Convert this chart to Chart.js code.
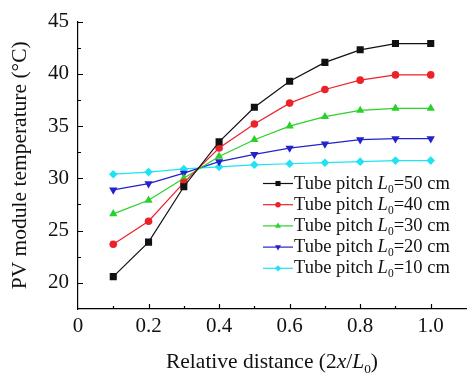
<!DOCTYPE html>
<html lang="en">
<head>
<meta charset="UTF-8">
<title>PV module temperature vs relative distance</title>
<script src="https://cdn.jsdelivr.net/npm/chart.js"></script>
<style>
    html, body { margin: 0; padding: 0; background: #fff; }
    #wrap { width: 471px; height: 378px; position: relative; }
</style>
</head>
<body>
<div id="wrap"><canvas id="chart"></canvas></div>
<script>
// relative distance 2x/L0
const distance = [0.1, 0.2, 0.3, 0.4, 0.5, 0.6, 0.7, 0.8, 0.9, 1.0];
// module temperature (°C) per tube pitch
const pitch50 = [20.6, 23.9, 29.2, 33.5, 36.8, 39.3, 41.1, 42.3, 42.9, 42.9];
const pitch40 = [23.7, 25.9, 29.6, 32.9, 35.2, 37.2, 38.5, 39.4, 39.9, 39.9];
const pitch30 = [26.6, 27.9, 30.0, 32.1, 33.7, 35.0, 35.9, 36.5, 36.7, 36.7];
const pitch20 = [28.9, 29.5, 30.5, 31.6, 32.3, 32.9, 33.3, 33.7, 33.8, 33.8];
const pitch10 = [30.4, 30.6, 30.9, 31.1, 31.3, 31.4, 31.5, 31.6, 31.7, 31.7];
const pitchLabels = ['50', '40', '30', '20', '10'];

const serif = "'Liberation Serif', 'Times New Roman', serif";

function series(vals, color, style, radius, rot) {
    return {
        data: vals.map((v, i) => ({ x: distance[i], y: v })),
        borderColor: color,
        backgroundColor: color,
        borderWidth: 1.2,
        pointStyle: style,
        pointRadius: radius,
        pointRotation: rot || 0,
        pointBorderWidth: 0,
        pointHoverRadius: radius,
        tension: 0
    };
}

const datasets = [
    series(pitch50, '#111111', 'rect', 5),
    series(pitch40, '#ec2228', 'circle', 3.8),
    series(pitch30, '#2bd12b', 'triangle', 4.8),
    series(pitch20, '#2323cc', 'triangle', 4.8, 180),
    series(pitch10, '#1fe3f2', 'rectRot', 4.3)
];

// inward tick marks (major + minor) on both axes
const innerTicks = {
    id: 'innerTicks',
    afterDraw(chart) {
        const { ctx, scales: { x, y } } = chart;
        ctx.save();
        ctx.strokeStyle = '#000';
        ctx.lineWidth = 1.2;
        ctx.beginPath();
        x.ticks.forEach(t => {
            const n = Math.round(t.value * 10);
            if (n <= 0 || n > 10) return;
            const px = Math.round(x.getPixelForValue(t.value)) + 0.5;
            const len = n % 2 === 0 ? 5 : 3;
            ctx.moveTo(px, y.bottom);
            ctx.lineTo(px, y.bottom - len);
        });
        y.ticks.forEach(t => {
            if (t.value <= y.min) return;
            const py = Math.round(y.getPixelForValue(t.value)) + 0.5;
            const len = t.value % 5 === 0 ? 5 : 3;
            ctx.moveTo(x.left, py);
            ctx.lineTo(x.left + len, py);
        });
        ctx.stroke();
        ctx.restore();
    }
};

// draw a run of text parts: [text, italic, sub]
function drawParts(ctx, parts, x, yBase, size) {
    parts.forEach(([txt, it, sub]) => {
        const s = sub ? size * 0.62 : size;
        ctx.font = (it ? 'italic ' : '') + s + 'px ' + serif;
        ctx.fillText(txt, x, yBase + (sub ? size * 0.22 : 0));
        x += ctx.measureText(txt).width;
    });
    return x;
}
function partsWidth(ctx, parts, size) {
    let w = 0;
    parts.forEach(([txt, it, sub]) => {
        const s = sub ? size * 0.62 : size;
        ctx.font = (it ? 'italic ' : '') + s + 'px ' + serif;
        w += ctx.measureText(txt).width;
    });
    return w;
}

const legendAndTitle = {
    id: 'legendAndTitle',
    afterDraw(chart) {
        const ctx = chart.ctx;
        ctx.save();
        ctx.fillStyle = '#111';
        ctx.textBaseline = 'alphabetic';
        ctx.textAlign = 'left';

        // x axis title
        const xt = [['Relative distance (2', false, false], ['x', true, false], ['/', false, false],
                    ['L', true, false], ['0', false, true], [')', false, false]];
        const fs = 21.5;
        const w = partsWidth(ctx, xt, fs);
        const cx = (chart.chartArea.left + chart.chartArea.right) / 2;
        drawParts(ctx, xt, cx - w / 2, 368, fs);

        // legend
        chart.data.datasets.forEach((ds, i) => {
            const ry = 183.5 + i * 21.2;
            ctx.strokeStyle = ds.borderColor;
            ctx.lineWidth = 1.2;
            ctx.beginPath();
            ctx.moveTo(263, ry);
            ctx.lineTo(293, ry);
            ctx.stroke();
            ctx.fillStyle = ds.borderColor;
            Chart.helpers.drawPoint(ctx, {
                pointStyle: ds.pointStyle,
                rotation: ds.pointRotation,
                radius: ds.pointRadius * 0.72,
                borderWidth: 0
            }, 278, ry);
            ctx.fillStyle = '#111';
            drawParts(ctx, [['Tube pitch ', false, false], ['L', true, false], ['0', false, true],
                            ['=' + pitchLabels[i] + ' cm', false, false]], 294, ry + 5, 18.5);
        });
        ctx.restore();
    }
};

new Chart(document.getElementById('chart'), {
    type: 'line',
    data: { datasets },
    options: {
        responsive: true,
        maintainAspectRatio: false,
        animation: false,
        events: [],
        layout: { padding: { top: 16, right: 0, left: 0, bottom: 0 } },
        plugins: { legend: { display: false }, tooltip: { enabled: false } },
        scales: {
            x: {
                type: 'linear',
                min: 0,
                max: 1.1,
                grid: { display: false, drawTicks: false },
                border: { display: true, color: '#000', width: 1.2 },
                afterFit: s => { s.height = 69; },
                ticks: {
                    stepSize: 0.1,
                    padding: 5,
                    color: '#111',
                    autoSkip: false,
                    maxRotation: 0,
                    font: { family: serif, size: 21 },
                    callback: v => {
                        const n = Math.round(v * 10);
                        if (n % 2 !== 0 || n > 10) return '';
                        return n === 0 ? '0' : (n / 10).toFixed(1);
                    }
                }
            },
            y: {
                min: 17.5,
                max: 45,
                grid: { display: false, drawTicks: false },
                border: { display: true, color: '#000', width: 1.2 },
                afterFit: s => { s.width = 78; },
                title: {
                    display: true,
                    text: 'PV module temperature (°C)',
                    color: '#111',
                    font: { family: serif, size: 21.5 },
                    padding: { top: 7, bottom: 0 }
                },
                ticks: {
                    stepSize: 2.5,
                    padding: 9,
                    color: '#111',
                    autoSkip: false,
                    font: { family: serif, size: 21 },
                    callback: v => (v % 5 === 0 ? String(v) : '')
                }
            }
        }
    },
    plugins: [innerTicks, legendAndTitle]
});
</script>
</body>
</html>
